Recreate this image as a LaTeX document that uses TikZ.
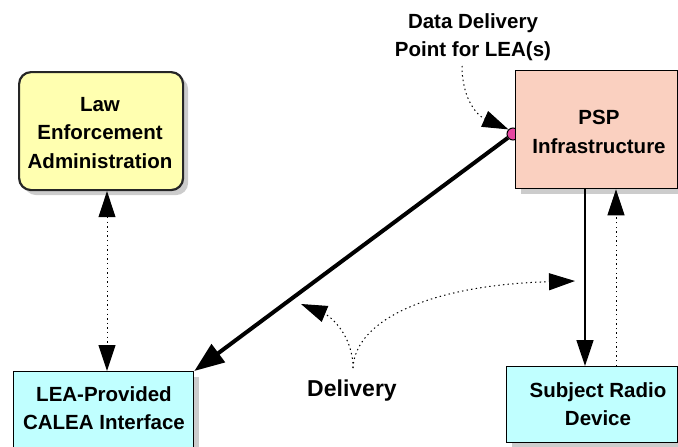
\documentclass[tikz,border=0pt]{standalone}
\usepackage{fontspec}
\setmainfont{Liberation Sans}
\usetikzlibrary{arrows.meta,shadows}
\definecolor{lawfill}{RGB}{255,255,176}
\definecolor{pspfill}{RGB}{250,208,192}
\definecolor{cyanfill}{RGB}{192,255,255}
\definecolor{dotpink}{RGB}{230,70,160}
\definecolor{shadowgray}{RGB}{204,204,204}
\tikzset{
  boxshadow/.style={drop shadow={shadow xshift=5pt,shadow yshift=-5pt,fill=shadowgray,opacity=1}},
  lbl/.style={font=\fontsize{20.5}{28.5}\selectfont\bfseries,align=center,inner sep=1pt},
  plainbox/.style={draw=black,line width=1.3pt,boxshadow,inner sep=0pt,anchor=north west},
  dotline/.style={line width=1pt,dash pattern=on 1.4pt off 3.2pt},
  tip/.style={-{Triangle[length=26pt,width=17pt]}},
  tiptwo/.style={{Triangle[length=26pt,width=17pt]}-{Triangle[length=26pt,width=17pt]}},
}
\begin{document}
\begin{tikzpicture}[x=1pt,y=-1pt]
\useasboundingbox (0,0) rectangle (678,447);
\clip (0,0) rectangle (678,447);
% boxes
\node[plainbox,draw=black!85,line width=2.2pt,rounded corners=12pt,fill=lawfill,minimum width=164pt,minimum height=118pt] (law) at (18,71) {};
\node[lbl] (lawtxt) at (100,133) {Law\\Enforcement\\Administration};
\node[draw=black,line width=1pt,circle,fill=dotpink,minimum size=12pt,inner sep=0pt] (dot) at (513,134) {};
\node[plainbox,fill=pspfill,minimum width=162pt,minimum height=118pt] (psp) at (515,70) {};
\node[lbl] (psptxt) at (599,132) {PSP\\Infrastructure};
\node[plainbox,fill=cyanfill,minimum width=180pt,minimum height=100pt] (lea) at (13,371) {};
\node[lbl] (leatxt) at (104,408) {LEA-Provided\\CALEA Interface};
\node[plainbox,fill=cyanfill,minimum width=171pt,minimum height=76pt] (srd) at (506,366) {};
\node[lbl] (srdtxt) at (598,404) {Subject Radio\\Device};
\node[lbl] (ddp) at (473,37) {Data Delivery\\Point for LEA(s)};
\node[lbl,font=\fontsize{23}{28}\selectfont\bfseries] (dlv) at (352,391) {Delivery};
% helper coordinates
\coordinate (c0) at (107,0);
\coordinate (c1) at (585,0);
\coordinate (c2) at (616,0);
\coordinate (dsplit) at (353,368);
\coordinate (dright) at (575,281);
\coordinate (dleft) at (301,304);
% connectors
\draw[dotline,tiptwo] (c0 |- law.south) -- (c0 |- lea.north);
\draw[line width=4pt,-{Triangle[length=30pt,width=22pt]}] (dot) -- (lea.north east);
\draw[line width=1.5pt,tip] (c1 |- psp.south) -- (c1 |- srd.north);
\draw[dotline,tip] (c2 |- srd.north) -- (c2 |- psp.south);
\draw[dotline,tip] (462,66) .. controls (462,100) and (478,116) .. (dot.north west);
\draw[dotline,tip] (dsplit) .. controls (353,335) and (330,316) .. (dleft);
\draw[dotline,tip] (dsplit) .. controls (355,320) and (430,285) .. (dright);
\end{tikzpicture}
\end{document}
